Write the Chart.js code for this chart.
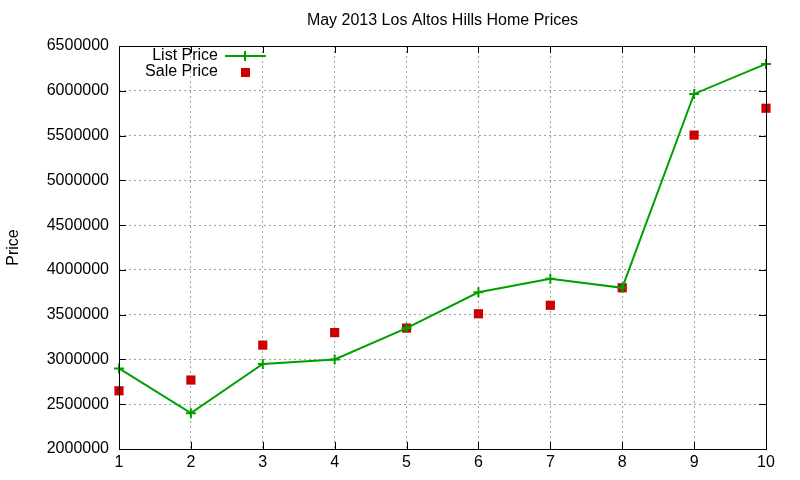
<!DOCTYPE html>
<html>
<head>
<meta charset="utf-8">
<script src="https://cdn.jsdelivr.net/npm/chart.js@4/dist/chart.umd.min.js"></script>
<style>
  html, body { margin: 0; padding: 0; background: #fff; }
  #wrap { width: 800px; height: 480px; }
</style>
</head>
<body>
<div id="wrap"><canvas id="chart" width="800" height="480"></canvas></div>
<script>
// data
var homeIndex = [1, 2, 3, 4, 5, 6, 7, 8, 9, 10];
var listPrice = [2900000, 2400000, 2950000, 3000000, 3350000, 3750000, 3900000, 3800000, 5965000, 6300000];
var salePrice = [2650000, 2770000, 3160000, 3300000, 3350000, 3510000, 3605000, 3800000, 5505000, 5805000];
var yTicks = [2000000, 2500000, 3000000, 3500000, 4000000, 4500000, 5000000, 5500000, 6000000, 6500000];

var chartTitle = "May 2013 Los Altos Hills Home Prices";
var fontName = "'Liberation Sans', Arial, sans-serif";

function toPoints(xs, ys) {
  var out = [];
  for (var i = 0; i < xs.length; i++) out.push({ x: xs[i], y: ys[i] });
  return out;
}

// box, inner tick marks, title and legend like gnuplot
var gnuplotFrame = {
  id: "gnuplotFrame",
  afterDatasetsDraw: function(chart) {
    var ctx = chart.ctx;
    var a = chart.chartArea;
    var xs = chart.scales.x, ys = chart.scales.y;
    ctx.save();
    ctx.strokeStyle = "#000";
    ctx.lineWidth = 1;
    ctx.strokeRect(a.left + 0.5, a.top + 0.5, a.right - a.left, a.bottom - a.top);
    ctx.beginPath();
    yTicks.forEach(function(v) {
      var py = Math.round(ys.getPixelForValue(v)) + 0.5;
      ctx.moveTo(a.left, py); ctx.lineTo(a.left + 7, py);
      ctx.moveTo(a.right, py); ctx.lineTo(a.right - 7, py);
    });
    homeIndex.forEach(function(v) {
      var px = Math.round(xs.getPixelForValue(v)) + 0.5;
      ctx.moveTo(px, a.bottom); ctx.lineTo(px, a.bottom - 7);
      ctx.moveTo(px, a.top); ctx.lineTo(px, a.top + 7);
    });
    ctx.stroke();

    // title
    ctx.fillStyle = "#000";
    ctx.font = "16px " + fontName;
    ctx.textAlign = "center";
    ctx.textBaseline = "middle";
    ctx.fillText(chartTitle, (a.left + a.right) / 2, 21);

    // legend
    var ds = chart.data.datasets;
    ctx.font = "16px " + fontName;
    ctx.textAlign = "right";
    ctx.fillText(ds[0].label, 218, 56);
    ctx.fillText(ds[1].label, 218, 72);
    ctx.strokeStyle = ds[0].borderColor;
    ctx.lineWidth = 2;
    ctx.beginPath();
    ctx.moveTo(225, 56); ctx.lineTo(266, 56);
    ctx.moveTo(245, 51); ctx.lineTo(245, 61);
    ctx.stroke();
    ctx.fillStyle = ds[1].pointBackgroundColor;
    ctx.fillRect(241, 68, 9, 9);
    ctx.restore();
  }
};

var ctx = document.getElementById("chart").getContext("2d");
new Chart(ctx, {
  type: "line",
  data: {
    datasets: [{
      label: "List Price",
      data: toPoints(homeIndex, listPrice),
      borderColor: "#00a000",
      backgroundColor: "#00a000",
      borderWidth: 2,
      pointStyle: "cross",
      pointRadius: 5,
      pointBorderWidth: 2,
      pointBorderColor: "#00a000",
      tension: 0,
      clip: false
    }, {
      label: "Sale Price",
      data: toPoints(homeIndex, salePrice),
      showLine: false,
      pointStyle: "rect",
      pointRadius: 6.5,
      pointBorderWidth: 0,
      pointBackgroundColor: "#cc0000",
      pointBorderColor: "#cc0000",
      clip: false
    }]
  },
  options: {
    responsive: false,
    animation: false,
    layout: { padding: { top: 46, right: 34, left: 0, bottom: 0 } },
    plugins: {
      legend: { display: false },
      title: { display: false },
      tooltip: { enabled: false }
    },
    scales: {
      x: {
        type: "linear",
        min: 1,
        max: 10,
        afterFit: function(s) { s.height = 31; },
        ticks: {
          stepSize: 1,
          color: "#000",
          padding: 4,
          font: { family: fontName, size: 16 }
        },
        grid: { color: "#a0a0a0", drawTicks: false, lineWidth: 1 },
        border: { display: false, dash: [2, 3] }
      },
      y: {
        min: 2000000,
        max: 6500000,
        afterFit: function(s) { s.width = 119; },
        afterBuildTicks: function(s) {
          s.ticks = yTicks.map(function(v) { return { value: v }; });
        },
        ticks: {
          color: "#000",
          padding: 10,
          font: { family: fontName, size: 16 },
          callback: function(v) { return String(v); }
        },
        grid: { color: "#a0a0a0", drawTicks: false, lineWidth: 1 },
        border: { display: false, dash: [2, 3] },
        title: {
          display: true,
          text: "Price",
          color: "#000",
          padding: { top: 4, bottom: 0 },
          font: { family: fontName, size: 16 }
        }
      }
    }
  },
  plugins: [gnuplotFrame]
});
</script>
</body>
</html>
